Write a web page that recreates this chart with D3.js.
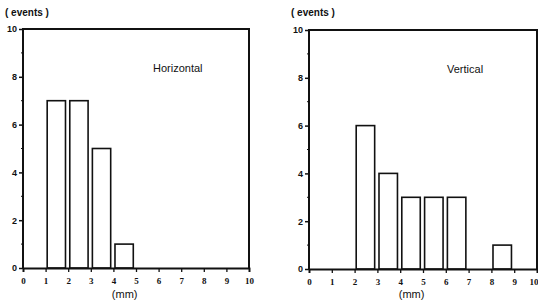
<!DOCTYPE html>
<html>
<head>
<meta charset="utf-8">
<script src="https://cdn.jsdelivr.net/npm/d3@7"></script>
<style>
  body { margin: 0; background: #fff; }
  svg { display: block; }
</style>
</head>
<body>
<svg id="chart" width="538" height="305"></svg>
<script>
// histogram data: bin start (mm) and number of events
const binsH = [1, 2, 3, 4];
const countsH = [7, 7, 5, 1];
const binsV = [2, 3, 4, 5, 6, 8];
const countsV = [6, 4, 3, 3, 3, 1];
const xTicks = [0, 1, 2, 3, 4, 5, 6, 7, 8, 9, 10];
const yTicks = [0, 2, 4, 6, 8, 10];
const yMinor = [1, 3, 5, 7, 9];

const svg = d3.select('#chart');

const panels = [
  { title: 'Horizontal', bins: binsH, counts: countsH, left: 23, right: 249, top: 29, bottom: 268, titleX: 153, titleY: 72 },
  { title: 'Vertical', bins: binsV, counts: countsV, left: 309, right: 537, top: 30, bottom: 269, titleX: 447, titleY: 73 },
];

panels.forEach((p) => {
  const x = d3.scaleLinear().domain([0, 10]).range([p.left, p.right]);
  const y = d3.scaleLinear().domain([0, 10]).range([p.bottom, p.top]);
  const g = svg.append('g');

  // bars
  g.selectAll('.bar')
    .data(p.bins.map((b, i) => ({ bin: b, n: p.counts[i] })))
    .enter()
    .append('rect')
    .attr('x', (d) => x(d.bin + 0.07))
    .attr('y', (d) => y(d.n))
    .attr('width', (d) => x(d.bin + 0.88) - x(d.bin + 0.07))
    .attr('height', (d) => y(0) - y(d.n))
    .attr('fill', '#fff')
    .attr('stroke', '#111')
    .attr('stroke-width', 1.6);

  // frame: left, top, right
  g.append('path')
    .attr('d', `M${p.left},${p.bottom}V${p.top}H${p.right}V${p.bottom}`)
    .attr('fill', 'none')
    .attr('stroke', '#111')
    .attr('stroke-width', 2);

  // x axis
  const xAxis = d3.axisBottom(x).tickValues(xTicks).tickSize(4).tickFormat(d3.format('d'));
  const xa = g.append('g').attr('transform', `translate(0,${p.bottom})`).call(xAxis);
  xa.select('.domain').attr('stroke', '#111').attr('stroke-width', 1.8);
  xa.selectAll('.tick line').attr('stroke', '#111').attr('stroke-width', 1.3);
  xa.selectAll('.tick text')
    .attr('y', 10)
    .attr('fill', '#111')
    .style('font-family', '"Liberation Serif", serif')
    .style('font-weight', 'bold')
    .style('font-size', '9px');
  // keep the last label inside the window
  if (p.right > 530) {
    xa.selectAll('.tick text').filter((d) => d === 10).attr('text-anchor', 'end').attr('dx', 1);
  }

  // y axis
  const yAxis = d3.axisLeft(y).tickValues(yTicks).tickSize(4).tickFormat(d3.format('d'));
  const ya = g.append('g').attr('transform', `translate(${p.left},0)`).call(yAxis);
  ya.select('.domain').remove();
  ya.selectAll('.tick line').attr('stroke', '#111').attr('stroke-width', 1.5);
  ya.selectAll('.tick text')
    .attr('x', -6)
    .attr('fill', '#111')
    .style('font-family', '"Liberation Sans", Arial, sans-serif')
    .style('font-weight', 'bold')
    .style('font-size', '9px');

  // minor y ticks
  g.selectAll('.minor')
    .data(yMinor)
    .enter()
    .append('line')
    .attr('x1', p.left - 2)
    .attr('x2', p.left + 1)
    .attr('y1', (d) => y(d))
    .attr('y2', (d) => y(d))
    .attr('stroke', '#111')
    .attr('stroke-width', 1);

  // labels
  g.append('text')
    .attr('x', p.left - 18)
    .attr('y', 16)
    .attr('fill', '#111')
    .style('font-family', '"Liberation Sans", Arial, sans-serif')
    .style('font-weight', 'bold')
    .style('font-size', '10px')
    .text('( events )');

  g.append('text')
    .attr('x', (x(4) + x(5)) / 2)
    .attr('y', 298)
    .attr('text-anchor', 'middle')
    .attr('fill', '#111')
    .style('font-family', '"Liberation Sans", Arial, sans-serif')
    .style('font-size', '11px')
    .text('(mm)');

  g.append('text')
    .attr('x', p.titleX)
    .attr('y', p.titleY)
    .attr('fill', '#111')
    .style('font-family', '"Liberation Sans", Arial, sans-serif')
    .style('font-size', '11px')
    .text(p.title);
});
</script>
</body>
</html>
